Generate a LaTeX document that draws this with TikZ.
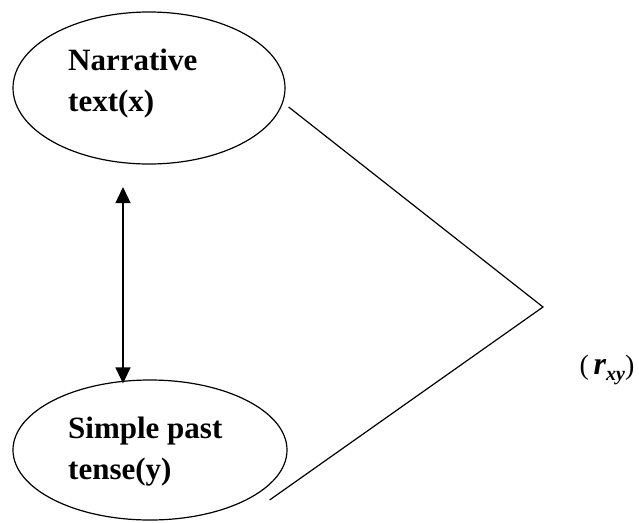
\documentclass[tikz,border=0pt]{standalone}
\usepackage{fontspec}
\setmainfont{Liberation Serif}
\usetikzlibrary{arrows.meta,shapes.geometric,calc}
\tikzset{
  oval/.style={draw, line width=1.2pt, ellipse, minimum width=272pt, inner sep=0pt},
  lbl/.style={font=\fontsize{31}{41}\selectfont\bfseries, align=left, anchor=north west, inner sep=0pt},
  conn/.style={line width=1.2pt},
  dbl/.style={line width=1.3pt, {Triangle[length=16pt,width=15pt]}-{Triangle[length=16pt,width=15pt]}}
}
\begin{document}
\begin{tikzpicture}[x=1pt,y=-1pt]
\useasboundingbox (0,0) rectangle (639,522);
\node[oval, minimum height=152pt] (top) at (149,88) {};
\node[oval, minimum width=274pt, minimum height=140pt] (bot) at (150,450) {};
\node[lbl] (toptext) at (68,49) {Narrative\\text(x)};
\node[lbl] (bottext) at (68,417) {Simple past\\tense(y)};
\coordinate (apex) at (543,307);
\coordinate (arrtop) at (123,187);
\draw[conn] ($(top.east)+(3,19)$) -- (apex) -- ($(bot.east)+(-18,50)$);
\draw[dbl] (arrtop) -- ($(arrtop |- bot.north)+(0,4)$);
\node[font=\fontsize{28}{30}\selectfont, inner sep=0pt] (rxy) at (607,370) {(\,\textbf{\textit{\fontsize{32}{32}\selectfont r}}\raisebox{-6pt}{\fontsize{20}{20}\selectfont\textbf{\textit{xy}}})};
\end{tikzpicture}
\end{document}
